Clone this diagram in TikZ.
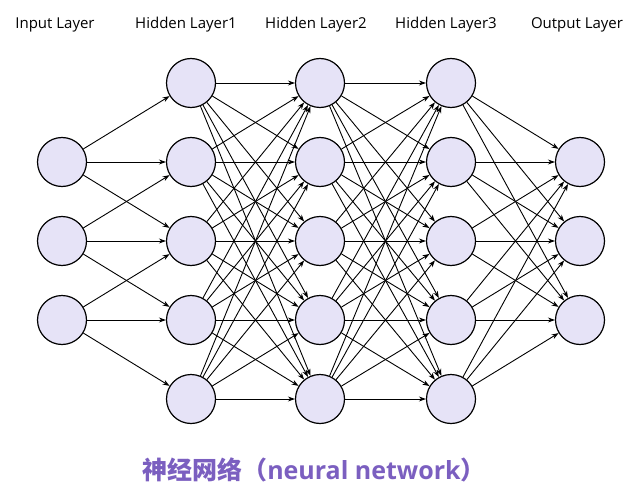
\documentclass[tikz,border=0pt]{standalone}
\usepackage{fontspec}
\setmainfont{Open Sans}
\newfontfamily\cjk{Noto Sans CJK SC}
\usetikzlibrary{arrows.meta}
\definecolor{nodefill}{HTML}{E6E3F7}
\definecolor{titlecol}{HTML}{7B5FC0}
\begin{document}
\begin{tikzpicture}[x=1pt,y=-1pt,
  neuron/.style={circle,draw=black,line width=1.2pt,fill=nodefill,minimum size=49pt,inner sep=0pt},
  conn/.style={-{Stealth[length=7pt,width=5pt]},line width=0.9pt},
  lbl/.style={font=\fontsize{15}{17}\selectfont}]
\useasboundingbox (0,0) rectangle (634,500);
\foreach \i/\y in {1/162,2/241,3/320} \node[neuron] (i\i) at (62,\y) {};
\foreach \i/\y in {1/83,2/162,3/241,4/320,5/399} {
  \node[neuron] (a\i) at (191,\y) {};
  \node[neuron] (b\i) at (320,\y) {};
  \node[neuron] (c\i) at (451,\y) {};
}
\foreach \i/\y in {1/162,2/241,3/320} \node[neuron] (o\i) at (580,\y) {};
\foreach \s in {1,2,3} \foreach \d in {0,1,2} {
  \pgfmathtruncatemacro{\t}{\s+\d}
  \draw[conn] (i\s) -- (a\t);
}
\foreach \s in {1,...,5} \foreach \t in {1,...,5} {
  \draw[conn] (a\s) -- (b\t);
  \draw[conn] (b\s) -- (c\t);
}
\foreach \s in {1,...,5} \foreach \t in {1,2,3} \draw[conn] (c\s) -- (o\t);
\node[lbl] (l1) at (55,25) {Input Layer};
\node[lbl] (l2) at (186,25) {Hidden Layer1};
\node[lbl] (l3) at (316,25) {Hidden Layer2};
\node[lbl] (l4) at (446,25) {Hidden Layer3};
\node[lbl] (l5) at (577,25) {Output Layer};
\node[text=titlecol,font=\fontsize{25}{28}\selectfont\bfseries] (t) at (314,470) {{\cjk 神经网络（}neural network{\cjk ）}};
\end{tikzpicture}
\end{document}
